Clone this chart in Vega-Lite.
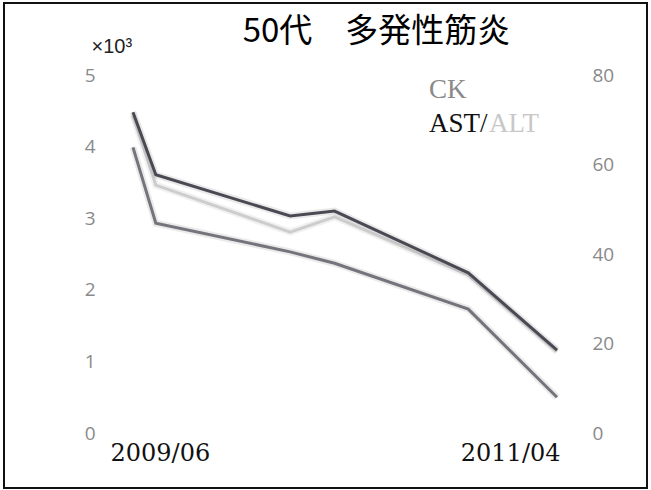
{
  "$schema": "https://vega.github.io/schema/vega-lite/v6.json",
  "width": 643,
  "height": 485,
  "autosize": {"type": "none"},
  "padding": {"left": 4, "top": 3, "right": 4, "bottom": 2},
  "background": "white",
  "view": {"stroke": "#111111", "strokeWidth": 2},
  "config": {"axis": {"domain": false, "ticks": false, "grid": false}},
  "title": {
    "text": "50代　多発性筋炎",
    "font": "Noto Sans CJK JP",
    "fontSize": 33,
    "fontWeight": "normal",
    "color": "#000000",
    "anchor": "middle",
    "frame": "group",
    "dx": 51,
    "offset": -46
  },
  "datasets": {
    "series": [
      {"date": "2009/06/01", "series": "CK", "value": 3.99},
      {"date": "2009/07/07", "series": "CK", "value": 2.93},
      {"date": "2010/02/04", "series": "CK", "value": 2.53},
      {"date": "2010/04/15", "series": "CK", "value": 2.37},
      {"date": "2010/11/12", "series": "CK", "value": 1.73},
      {"date": "2011/04/01", "series": "CK", "value": 0.5},
      {"date": "2009/06/01", "series": "AST", "value": 71.7},
      {"date": "2009/07/07", "series": "AST", "value": 57.7},
      {"date": "2010/02/04", "series": "AST", "value": 48.5},
      {"date": "2010/04/15", "series": "AST", "value": 49.6},
      {"date": "2010/11/12", "series": "AST", "value": 35.8},
      {"date": "2011/04/01", "series": "AST", "value": 18.5},
      {"date": "2009/06/01", "series": "ALT", "value": 71.0},
      {"date": "2009/07/07", "series": "ALT", "value": 55.4},
      {"date": "2010/02/04", "series": "ALT", "value": 44.9},
      {"date": "2010/04/15", "series": "ALT", "value": 48.3},
      {"date": "2010/11/12", "series": "ALT", "value": 35.3},
      {"date": "2011/04/01", "series": "ALT", "value": 18.2}
    ],
    "legend": [
      {"date": "2010/09/11", "value": 74.9, "label": "CK"},
      {"date": "2010/09/11", "value": 67.3, "label": "AST/"},
      {"date": "2010/09/11", "value": 67.3, "label": "ALT"}
    ]
  },
  "encoding": {
    "x": {
      "field": "date",
      "type": "temporal",
      "scale": {"range": [129, 553], "nice": false},
      "axis": {
        "orient": "bottom",
        "offset": -47,
        "labelPadding": 0,
        "title": null,
        "values": [{"year": 2009, "month": 6, "date": 1}, {"year": 2011, "month": 4, "date": 1}],
        "format": "%Y/%m",
        "labelFont": "DejaVu Serif",
        "labelFontSize": 24,
        "labelColor": "#111111",
        "labelOverlap": false,
        "labelAlign": {"condition": {"test": "datum.value < datetime(2010,0,1)", "value": "left"}, "value": "right"},
        "labelOffset": {"condition": {"test": "datum.value < datetime(2010,0,1)", "value": -23}, "value": 3}
      }
    }
  },
  "layer": [
    {
      "data": {"name": "series"},
      "transform": [{"filter": "datum.series === 'CK'"}],
      "encoding": {
        "y": {
          "field": "value",
          "type": "quantitative",
          "scale": {"domain": [0, 5], "range": [430, 72], "nice": false},
          "axis": {
            "orient": "left",
            "offset": -91,
            "labelPadding": 0,
            "values": [0, 1, 2, 3, 4, 5],
            "labelFont": "Open Sans",
            "labelFontSize": 19,
            "labelColor": "#8a8a8a",
            "title": "×10³",
            "titleAngle": 0,
            "titleAlign": "left",
            "titleBaseline": "alphabetic",
            "titleX": -4,
            "titleY": 49,
            "titleFont": "Liberation Sans",
            "titleFontSize": 20,
            "titleFontWeight": "normal",
            "titleColor": "#222222"
          }
        }
      },
      "layer": [
        {"mark": {"type": "line", "strokeWidth": 7, "color": "#8a8a8a", "opacity": 0.18}},
        {"mark": {"type": "line", "strokeWidth": 3, "color": "#74747c"}}
      ]
    },
    {
      "encoding": {
        "y": {
          "field": "value",
          "type": "quantitative",
          "scale": {"domain": [0, 80], "range": [430, 72], "nice": false},
          "axis": {
            "orient": "right",
            "offset": -55,
            "labelPadding": 0,
            "values": [0, 20, 40, 60, 80],
            "labelFont": "Open Sans",
            "labelFontSize": 19,
            "labelColor": "#8a8a8a",
            "title": null
          }
        }
      },
      "layer": [
        {"data": {"name": "series"}, "transform": [{"filter": "datum.series === 'ALT'"}], "mark": {"type": "line", "strokeWidth": 7, "color": "#a0a0a0", "opacity": 0.15}},
        {"data": {"name": "series"}, "transform": [{"filter": "datum.series === 'ALT'"}], "mark": {"type": "line", "strokeWidth": 3, "color": "#cdcdcd"}},
        {"data": {"name": "series"}, "transform": [{"filter": "datum.series === 'AST'"}], "mark": {"type": "line", "strokeWidth": 7, "color": "#8a8a8a", "opacity": 0.18}},
        {"data": {"name": "series"}, "transform": [{"filter": "datum.series === 'AST'"}], "mark": {"type": "line", "strokeWidth": 3, "color": "#4a4a54"}},
        {"data": {"name": "legend"}, "transform": [{"filter": "datum.label === 'CK'"}], "mark": {"type": "text", "align": "left", "baseline": "alphabetic", "font": "Liberation Serif", "fontSize": 27, "color": "#8a8a8a"}, "encoding": {"text": {"field": "label"}}},
        {"data": {"name": "legend"}, "transform": [{"filter": "datum.label === 'AST/'"}], "mark": {"type": "text", "align": "left", "baseline": "alphabetic", "font": "Liberation Serif", "fontSize": 27, "color": "#111111"}, "encoding": {"text": {"field": "label"}}},
        {"data": {"name": "legend"}, "transform": [{"filter": "datum.label === 'ALT'"}], "mark": {"type": "text", "align": "left", "baseline": "alphabetic", "font": "Liberation Serif", "fontSize": 27, "color": "#c8c8c8", "dx": 60}, "encoding": {"text": {"field": "label"}}}
      ]
    }
  ],
  "resolve": {"scale": {"y": "independent"}}
}
